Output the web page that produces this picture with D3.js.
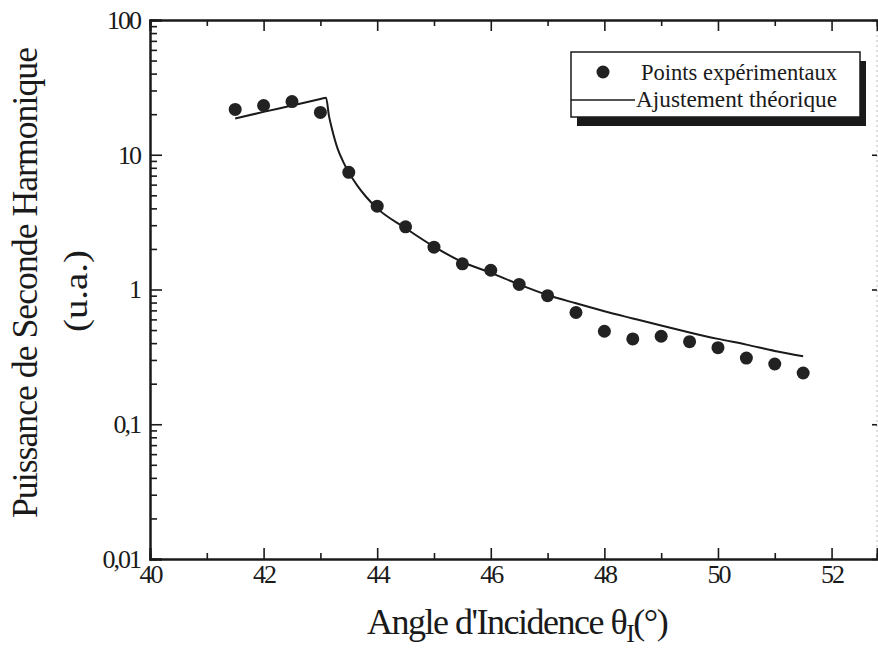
<!DOCTYPE html>
<html>
<head>
<meta charset="utf-8">
<script src="https://cdn.jsdelivr.net/npm/d3@7"></script>
<style>
	body { margin: 0; background: #fff; }
	text { font-family: "Liberation Serif", "DejaVu Serif", serif; fill: #1a1a1a; }
</style>
</head>
<body>
<div id="chart"></div>
<script>
// points experimentaux
var expAngle = [41.5, 42, 42.5, 43, 43.5, 44, 44.5, 45, 45.5, 46, 46.5, 47, 47.5, 48, 48.5, 49, 49.5, 50, 50.5, 51, 51.5];
var expPower = [21.7, 23.2, 24.8, 20.6, 7.4, 4.15, 2.92, 2.06, 1.55, 1.39, 1.09, 0.9, 0.675, 0.49, 0.43, 0.45, 0.41, 0.37, 0.31, 0.28, 0.24];

// ajustement theorique
var fitAngle = [41.5, 42, 42.5, 43, 43.1, 43.15, 43.2, 43.3, 43.4, 43.5, 43.65, 43.8, 44, 44.5, 45, 45.5, 46, 46.5, 47, 47.5, 48, 48.5, 49, 49.5, 50, 50.5, 51, 51.5];
var fitPower = [18.6, 20.8, 23.2, 25.9, 26.5, 19.5, 15.8, 11.2, 8.9, 7.4, 5.9, 4.9, 4.0, 2.85, 2.08, 1.6, 1.33, 1.09, 0.91, 0.79, 0.69, 0.61, 0.54, 0.48, 0.43, 0.39, 0.35, 0.32];

var xMajor = [40, 42, 44, 46, 48, 50, 52];
var xMinor = [41, 43, 45, 47, 49, 51];
var yMajor = [0.01, 0.1, 1, 10, 100];
var yLabels = ["0,01", "0,1", "1", "10", "100"];

var width = 878, height = 651;
var plotLeft = 150, plotRight = 877, plotTop = 20, plotBottom = 559;

var svg = d3.select("#chart").append("svg")
	.attr("width", width)
	.attr("height", height);

var x = d3.scaleLinear().domain([40, 52.8]).range([plotLeft, plotRight]);
var y = d3.scaleLog().domain([0.01, 100]).range([plotBottom, plotTop]);

var yMinor = [];
yMajor.slice(0, -1).forEach(function(d) {
	for (var k = 2; k <= 9; k++) yMinor.push(d * k);
});

// right frame (faint)
svg.append("line").attr("x1", plotRight).attr("x2", plotRight).attr("y1", plotTop).attr("y2", plotBottom)
	.style("stroke", "#bbb").style("stroke-width", 1).style("stroke-dasharray", "2,3");

// bottom axis
var gx = svg.append("g").attr("transform", "translate(0," + plotBottom + ")");
gx.call(d3.axisBottom(x).tickValues(xMajor).tickSize(-11).tickPadding(6).tickFormat(d3.format("d")));
gx.append("g").call(d3.axisBottom(x).tickValues(xMinor).tickSize(-6).tickFormat(""));

// top axis
var gt = svg.append("g").attr("transform", "translate(0," + plotTop + ")");
gt.call(d3.axisTop(x).tickValues(xMajor).tickSize(-11).tickFormat(""));
gt.append("g").call(d3.axisTop(x).tickValues(xMinor).tickSize(-6).tickFormat(""));

// left axis
var gy = svg.append("g").attr("transform", "translate(" + plotLeft + ",0)");
gy.call(d3.axisLeft(y).tickValues(yMajor).tickSize(-12).tickPadding(10)
	.tickFormat(function(d, i) { return yLabels[i]; }));
gy.append("g").call(d3.axisLeft(y).tickValues(yMinor).tickSize(-7).tickFormat(""));

// right axis ticks
svg.append("g").attr("transform", "translate(" + plotRight + ",0)")
	.call(d3.axisRight(y).tickValues(yMajor).tickSize(-5).tickFormat(""))
	.select(".domain").remove();

svg.selectAll(".domain").style("stroke", "#1a1a1a").style("stroke-width", 2);
svg.selectAll(".tick line").style("stroke", "#1a1a1a").style("stroke-width", 1.6);
svg.selectAll(".tick text")
	.style("font-family", "'Liberation Serif', serif")
	.style("font-size", "26px")
	.style("letter-spacing", "-2px")
	.style("fill", "#1a1a1a");

// fit line
var line = d3.line()
	.x(function(d, i) { return x(fitAngle[i]); })
	.y(function(d) { return y(d); })
	.curve(d3.curveMonotoneX);
svg.append("path")
	.attr("d", line(fitPower))
	.style("fill", "none")
	.style("stroke", "#1a1a1a")
	.style("stroke-width", 2);

// points
svg.append("g").selectAll("circle")
	.data(expPower)
	.enter().append("circle")
	.attr("cx", function(d, i) { return x(expAngle[i]); })
	.attr("cy", function(d) { return y(d); })
	.attr("r", 6.5)
	.style("fill", "#222");

// legend
var lg = svg.append("g");
lg.append("rect").attr("x", 577).attr("y", 61).attr("width", 289).attr("height", 65).style("fill", "#1a1a1a");
lg.append("rect").attr("x", 571).attr("y", 52).attr("width", 289).attr("height", 65)
	.style("fill", "#fff").style("stroke", "#1a1a1a").style("stroke-width", 1.5);
lg.append("circle").attr("cx", 603).attr("cy", 72).attr("r", 6.5).style("fill", "#222");
lg.append("line").attr("x1", 571).attr("x2", 635).attr("y1", 100).attr("y2", 100)
	.style("stroke", "#1a1a1a").style("stroke-width", 1.6);
lg.append("text").attr("x", 641).attr("y", 80).style("font-size", "23px")
	.attr("textLength", 196).attr("lengthAdjust", "spacingAndGlyphs")
	.text("Points expérimentaux");
lg.append("text").attr("x", 636).attr("y", 107).style("font-size", "23px")
	.attr("textLength", 201).attr("lengthAdjust", "spacingAndGlyphs")
	.text("Ajustement théorique");

// axis titles
var xt = svg.append("text")
	.attr("x", 367).attr("y", 634)
	.style("font-size", "36px")
	.style("letter-spacing", "-1.5px");
xt.append("tspan").text("Angle d'Incidence ");
xt.append("tspan").text("θ");
xt.append("tspan").attr("dy", 8).style("font-size", "26px").text("I");
xt.append("tspan").attr("dy", -8).text("(°)");

svg.append("text")
	.attr("transform", "translate(37,283) rotate(-90)")
	.attr("text-anchor", "middle")
	.style("font-size", "36px")
	.style("letter-spacing", "-1px")
	.attr("textLength", 470).attr("lengthAdjust", "spacingAndGlyphs")
	.text("Puissance de Seconde Harmonique");

svg.append("text")
	.attr("transform", "translate(87,291) rotate(-90)")
	.attr("text-anchor", "middle")
	.style("font-size", "33px")
	.attr("textLength", 82).attr("lengthAdjust", "spacingAndGlyphs")
	.text("(u.a.)");
</script>
</body>
</html>
